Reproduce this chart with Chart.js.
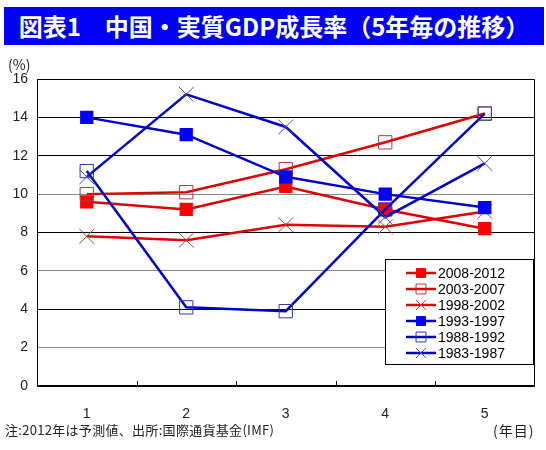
<!DOCTYPE html>
<html>
<head>
<meta charset="utf-8">
<script src="https://cdn.jsdelivr.net/npm/chart.js@4.4.0/dist/chart.umd.min.js"></script>
<style>
  html, body { margin: 0; padding: 0; background: #fff; }
  #wrap { position: relative; width: 546px; height: 450px; }
  #title {
    position: absolute; left: 4px; top: 7px; width: 540px; height: 38px;
    background: #0000f5; color: #fff; text-align: center;
    font: bold 24px "Noto Sans CJK JP", sans-serif; line-height: 38px;
  }
  .note { position: absolute; font: 13px "Noto Sans CJK JP", sans-serif; color: #222; white-space: nowrap; }
</style>
</head>
<body>
<div id="wrap">
  <canvas id="gdpChart" width="546" height="450"></canvas>
  <div id="title">図表1　中国・実質GDP成長率（5年毎の推移）</div>
  <div class="note" style="left:8px; top:54px; font-size:14px;">(%)</div>
  <div class="note" style="left:5px; top:420px; letter-spacing:0.3px;">注:2012年は予測値、出所:国際通貨基金(IMF)</div>
  <div class="note" style="left:493px; top:420px; font-size:14px; letter-spacing:1px;">(年目)</div>
</div>
<script>
// 5年ごとの実質GDP成長率（%）
const years = ['1', '2', '3', '4', '5'];
const labels = ['2008-2012', '2003-2007', '1998-2002', '1993-1997', '1988-1992', '1983-1987'];
const g2008 = [9.6, 9.2, 10.4, 9.2, 8.2];
const g2003 = [10.0, 10.1, 11.3, 12.7, 14.2];
const g1998 = [7.8, 7.6, 8.4, 8.3, 9.1];
const g1993 = [14.0, 13.1, 10.9, 10.0, 9.3];
const g1988 = [11.2, 4.1, 3.9, 9.2, 14.2];
const g1983 = [10.9, 15.2, 13.5, 8.8, 11.6];
const yTicks = [0, 2, 4, 6, 8, 10, 12, 14, 16];

const red = '#e00000';
const blue = '#0000c8';

// 枠線と目盛り
const frameTicks = {
    id: 'frameTicks',
    beforeDatasetsDraw(chart) {
        const { ctx, chartArea: a, scales: { x } } = chart;
        ctx.save();
        ctx.strokeStyle = '#000';
        ctx.lineWidth = 1;
        ctx.strokeRect(Math.round(a.left) + 0.5, Math.round(a.top) + 0.5, Math.round(a.width) - 1, Math.round(a.height) - 1);
        ctx.beginPath();
        for (let i = 1; i < years.length; i++) {
            const px = Math.round((x.getPixelForTick(i - 1) + x.getPixelForTick(i)) / 2) + 0.5;
            ctx.moveTo(px, a.bottom);
            ctx.lineTo(px, a.bottom - 5);
        }
        ctx.stroke();
        ctx.restore();
    },
};

// 凡例（グラフ内の枠）
const boxLegend = {
    id: 'boxLegend',
    afterDatasetsDraw(chart) {
        const ctx = chart.ctx;
        const L = 385, T = 259, W = 148, H = 105;
        ctx.save();
        ctx.fillStyle = '#fff';
        ctx.fillRect(L, T, W, H);
        ctx.strokeStyle = '#000';
        ctx.lineWidth = 1;
        ctx.strokeRect(L + 0.5, T + 0.5, W, H);
        ctx.font = '14px "Liberation Sans", sans-serif';
        ctx.textBaseline = 'middle';
        chart.data.datasets.forEach((ds, i) => {
            const y = T + 14 + i * 16;
            ctx.strokeStyle = ds.borderColor;
            ctx.lineWidth = ds.borderWidth;
            ctx.beginPath();
            ctx.moveTo(L + 21, y);
            ctx.lineTo(L + 51, y);
            ctx.stroke();
            ctx.strokeStyle = ds.pointBorderColor;
            ctx.fillStyle = ds.pointBackgroundColor;
            ctx.lineWidth = ds.pointBorderWidth;
            Chart.helpers.drawPoint(ctx, { pointStyle: ds.pointStyle, radius: 7, rotation: 0, borderWidth: ds.pointBorderWidth }, L + 36, y);
            ctx.fillStyle = '#000';
            ctx.fillText(ds.label, L + 53, y + 1);
        });
        ctx.restore();
    },
};

const series = [g2008, g2003, g1998, g1993, g1988, g1983];
const lineCol = [red, red, red, blue, blue, blue];
const styles = ['rect', 'rect', 'crossRot', 'rect', 'rect', 'crossRot'];
const ptFill = ['#ff0000', 'rgba(0,0,0,0)', 'rgba(0,0,0,0)', '#0000ff', 'rgba(0,0,0,0)', 'rgba(0,0,0,0)'];
const ptEdge = ['#ff0000', '#a83c3c', '#a04848', '#0000ff', '#3838a0', '#5050a0'];
const ptSize = [9.4, 9.4, 10.5, 9.4, 9.4, 10.5];

const datasets = labels.map((lab, i) => ({
    label: lab,
    data: series[i],
    borderColor: lineCol[i],
    borderWidth: 2.5,
    pointStyle: styles[i],
    pointRadius: ptSize[i],
    pointHoverRadius: ptSize[i],
    pointBackgroundColor: ptFill[i],
    pointBorderColor: ptEdge[i],
    pointBorderWidth: (i === 0 || i === 3) ? 0 : 1,
    tension: 0,
    order: labels.length - i,
}));

const chart = new Chart(document.getElementById('gdpChart'), {
    type: 'line',
    data: { labels: years, datasets: datasets },
    plugins: [frameTicks, boxLegend],
    options: {
        responsive: false,
        animation: false,
        layout: { padding: { top: 79, right: 8, left: 0, bottom: 0 } },
        plugins: {
            legend: { display: false },
            title: { display: false },
            tooltip: { enabled: false },
        },
        scales: {
            x: {
                offset: true,
                grid: { display: false },
                border: { display: true, color: '#000', width: 1 },
                ticks: { color: '#222', padding: 12, font: { family: 'Liberation Sans', size: 14 } },
                afterFit: (s) => { s.height = 64; },
            },
            y: {
                min: 0,
                max: 16,
                afterBuildTicks: (s) => { s.ticks = yTicks.map((v) => ({ value: v })); },
                grid: {
                    drawTicks: false,
                    color: (c) => ([2, 6, 10].includes(c.tick.value) ? '#888' : '#000'),
                },
                border: { display: true, color: '#000', width: 1 },
                ticks: { color: '#222', padding: 9, font: { family: 'Liberation Sans', size: 14 } },
                afterFit: (s) => { s.width = 37; },
            },
        },
    },
});
</script>
</body>
</html>
